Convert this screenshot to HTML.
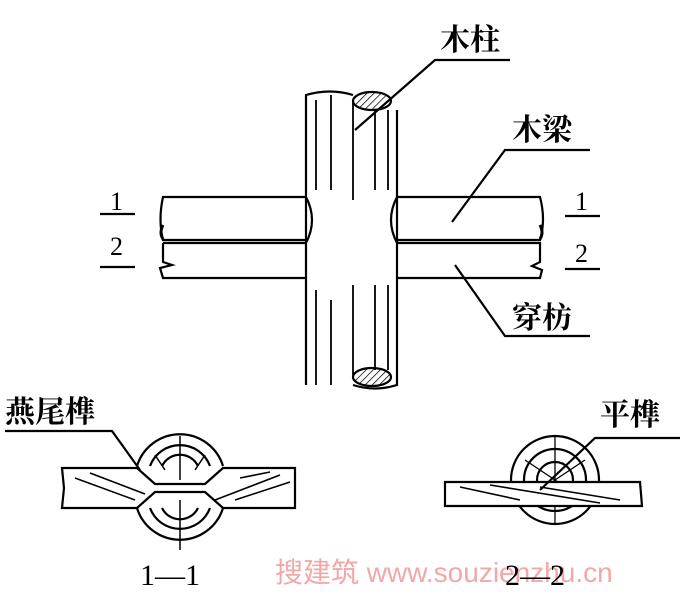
<!DOCTYPE html>
<html><head><meta charset="utf-8"><style>body{margin:0;background:#fff}svg{display:block}</style></head><body>
<svg width="685" height="600" viewBox="0 0 685 600" xmlns="http://www.w3.org/2000/svg" font-family="'Liberation Serif','Noto Serif CJK SC',serif">
<defs><pattern id="h" width="5" height="5" patternUnits="userSpaceOnUse" patternTransform="rotate(45)"><line x1="0" y1="0" x2="0" y2="5" stroke="#000" stroke-width="1.5"/></pattern></defs>
<g fill="none" stroke="#000" stroke-width="2.2">
<!-- beam -->
<path d="M306 197 L163 197 Q158 220 163 240 L306 240"/>
<path d="M163 243 L306 243 M163 243 L163 262 L172 265 L160 268 L163 278 L306 278"/>
<path d="M397 197 L540 197 Q546 220 540 240 L397 240"/>
<path d="M397 243 L540 243 L540 262 L532 266 L542 270 L540 278 L397 278"/>
<path d="M163 225 q-4 8 0 14 M540 225 q4 8 0 14" stroke-width="3"/>
<!-- column -->
<rect x="306" y="198" width="91" height="80" fill="#fff" stroke="none"/>
<path d="M306 385 L306 95 Q330 88 353 95 M306 197 Q318 220 306 243 M397 197 Q385 220 397 243"/>
<path d="M397 110 L397 385 Q375 392 353 385"/>
<path d="M316 100 L316 190 M331 95 L331 190 M353 100 L353 200 M375 110 L375 190 M388 110 L388 190" stroke-width="1.8"/>
<path d="M316 290 L316 385 M331 300 L331 385 M353 285 L353 375 M375 285 L375 370 M388 285 L388 370" stroke-width="1.8"/>
<ellipse cx="372" cy="101" rx="19" ry="9" fill="url(#h)"/>
<ellipse cx="372" cy="377" rx="19" ry="9" fill="url(#h)"/>
<!-- leaders -->
<path d="M510 60 L435 60 L355 130"/>
<path d="M590 150 L505 150 L452 222"/>
<path d="M590 336 L505 336 L455 265"/>
<path d="M100 214 L135 214 M100 267 L135 267 M565 216 L600 216 M565 269 L600 269"/>
<!-- section 1-1 -->
<path d="M137 466 A45 45 0 0 1 223 466"/>
<path d="M150 466 A32 32 0 0 1 210 466 M162 466 A20 20 0 0 1 198 466"/>
<path d="M137 508 A45 45 0 0 0 223 508 M150 508 A32 32 0 0 0 210 508 M162 508 A20 20 0 0 0 198 508"/>
<path d="M180 436 L180 480 M180 500 L180 550 M155 455 L165 470 M205 455 L195 470" stroke-width="1.5"/>
<path d="M62 468 L137 468 L155 484 L205 484 L223 468 L295 468 L295 508 L223 508 L205 492 L155 492 L137 508 L62 508 L64 488 Z"/>
<path d="M75 478 L135 500 M90 473 L145 494 M215 500 L280 475 M235 500 L290 482 M240 478 L270 472" stroke-width="1.6"/>
<path d="M5 431 L112 431 L140 470"/>
<!-- section 2-2 -->
<circle cx="555" cy="480" r="44"/><circle cx="555" cy="480" r="31"/><circle cx="555" cy="480" r="18"/>
<path d="M555 436 L555 524 M525 460 L585 500 M585 460 L525 500" stroke-width="1.3"/>
<path d="M445 482 L640 482 L642 506 L445 506 Z" fill="#fff"/>
<path d="M460 487 L520 500 M490 485 L600 503 M540 487 L620 500" stroke-width="1.6"/>
<path d="M680 438 L595 438 L540 490"/>
</g>
<g font-size="30" font-weight="bold" fill="#000">
<text x="440" y="50">木柱</text>
<text x="512" y="140">木梁</text>
<text x="512" y="328">穿枋</text>
<text x="5" y="422" font-size="30">燕尾榫</text>
<text x="600" y="425">平榫</text>
</g>
<g font-size="26" fill="#000">
<text x="110" y="210">1</text><text x="110" y="255">2</text>
<text x="575" y="210">1</text><text x="575" y="262">2</text>
<text x="140" y="585" font-size="30">1—1</text>
</g>
<text x="275" y="582" font-size="28" fill="#f2a8a8" font-family="'Liberation Sans','Noto Sans CJK SC',sans-serif">搜建筑 www.souzienzhu.cn</text>
<text x="505" y="585" font-size="30" fill="#000">2—2</text>
</svg>
</body></html>
